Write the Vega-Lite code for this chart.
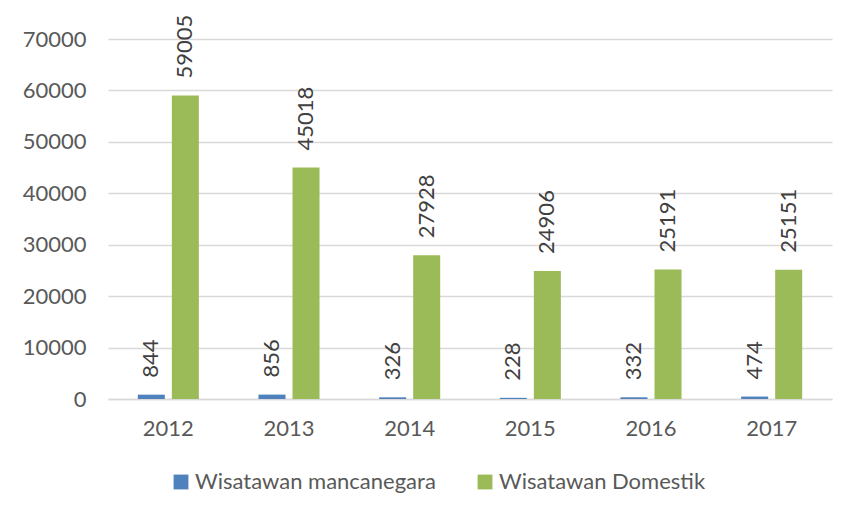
{
  "$schema": "https://vega.github.io/schema/vega-lite/v6.json",
  "autosize": "none",
  "width": 724,
  "height": 360,
  "padding": {"left": 108, "top": 39, "right": 20, "bottom": 118},
  "background": "white",
  "config": {
    "font": "Lato",
    "view": {"stroke": null},
    "axis": {"labelColor": "#595959", "labelFontSize": 22, "labelFont": "Lato"},
    "legend": {"labelColor": "#595959", "labelFontSize": 22, "labelFont": "Lato"}
  },
  "data": {
    "values": [
      {"year": "2012", "series": "Wisatawan mancanegara", "value": 844},
      {"year": "2012", "series": "Wisatawan Domestik", "value": 59005},
      {"year": "2013", "series": "Wisatawan mancanegara", "value": 856},
      {"year": "2013", "series": "Wisatawan Domestik", "value": 45018},
      {"year": "2014", "series": "Wisatawan mancanegara", "value": 326},
      {"year": "2014", "series": "Wisatawan Domestik", "value": 27928},
      {"year": "2015", "series": "Wisatawan mancanegara", "value": 228},
      {"year": "2015", "series": "Wisatawan Domestik", "value": 24906},
      {"year": "2016", "series": "Wisatawan mancanegara", "value": 332},
      {"year": "2016", "series": "Wisatawan Domestik", "value": 25191},
      {"year": "2017", "series": "Wisatawan mancanegara", "value": 474},
      {"year": "2017", "series": "Wisatawan Domestik", "value": 25151}
    ]
  },
  "encoding": {
    "x": {
      "field": "year", "type": "nominal", "title": null,
      "scale": {"paddingInner": 0.494, "paddingOuter": 0.247},
      "axis": {"labelAngle": 0, "ticks": false, "domainColor": "#d9d9d9", "domainWidth": 1.5, "labelPadding": 19}
    },
    "xOffset": {
      "field": "series", "type": "nominal",
      "sort": ["Wisatawan mancanegara", "Wisatawan Domestik"],
      "scale": {"paddingInner": 0.206}
    },
    "y": {
      "field": "value", "type": "quantitative", "title": null,
      "scale": {"domain": [0, 70000]},
      "axis": {"values": [0, 10000, 20000, 30000, 40000, 50000, 60000, 70000], "format": "d", "domain": false, "ticks": false, "gridColor": "#d9d9d9", "gridWidth": 1.5, "labelPadding": 22}
    }
  },
  "layer": [
    {
      "mark": {"type": "bar"},
      "encoding": {
        "color": {
          "field": "series", "type": "nominal",
          "sort": ["Wisatawan mancanegara", "Wisatawan Domestik"],
          "scale": {"domain": ["Wisatawan mancanegara", "Wisatawan Domestik"], "range": ["#4f81bd", "#9bbb59"]},
          "legend": {"title": null, "orient": "none", "legendX": 62, "legendY": 432, "direction": "horizontal", "symbolType": "square", "symbolSize": 220, "symbolStrokeWidth": 0, "columnPadding": 38, "labelOffset": 3, "labelLimit": 0}
        }
      }
    },
    {
      "mark": {"type": "text", "angle": 270, "align": "left", "baseline": "middle", "dx": 17, "fontSize": 22, "color": "#404040", "font": "Lato"},
      "encoding": {"text": {"field": "value", "type": "quantitative", "format": "d"}}
    }
  ]
}
